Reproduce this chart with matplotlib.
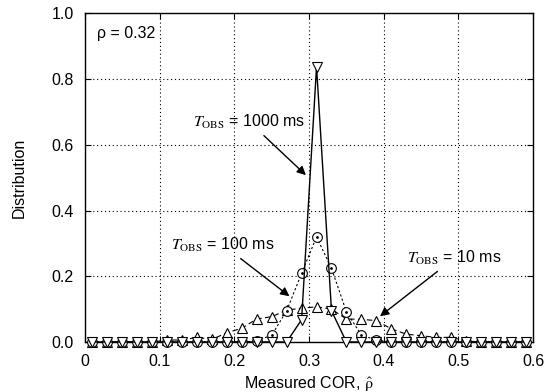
import matplotlib
matplotlib.use("Agg")
import matplotlib.pyplot as plt
import numpy as np

plt.rcParams['font.family'] = ['Liberation Sans', 'DejaVu Sans']
plt.rcParams['mathtext.fontset'] = 'stix'

# bin centres of the measured COR
cor = np.arange(0.01, 0.60, 0.02)

# T_OBS = 10 ms (triangles, dashed)
dist_10 = [0, 0, 0, 0, 0, 0.006, 0.006, 0.014, 0.008, 0.028,
           0.042, 0.07, 0.077, 0.097, 0.103, 0.107, 0.10, 0.07, 0.069, 0.065,
           0.04, 0.024, 0.019, 0.014, 0.014, 0.003, 0, 0, 0, 0]
# T_OBS = 100 ms (circles, dotted)
dist_100 = [0, 0, 0, 0, 0, 0, 0, 0, 0, 0,
            0, 0.003, 0.021, 0.095, 0.209, 0.32, 0.224, 0.092, 0.021, 0.006,
            0, 0, 0, 0, 0, 0, 0, 0, 0, 0]
# T_OBS = 1000 ms (down triangles, solid)
dist_1000 = [0, 0, 0, 0, 0, 0, 0, 0, 0, 0,
             0, 0, 0, 0, 0.068, 0.838, 0.095, 0, 0, 0,
             0, 0, 0, 0, 0, 0, 0, 0, 0, 0]

fs = 11.5

fig = plt.figure(figsize=(5.48, 3.92), dpi=100)
ax = fig.add_axes([0.155, 0.1276, 0.818, 0.838])

ax.plot(cor, dist_10, color='black', linestyle=(0, (5, 3)), linewidth=0.8,
        marker='^', markersize=6.5, markerfacecolor='white', markeredgecolor='black',
        markeredgewidth=0.8, zorder=3, clip_on=False)
ax.plot(cor, dist_100, color='black', linestyle=(0, (2, 2)), linewidth=0.8,
        marker='o', markersize=7, markerfacecolor='white', markeredgecolor='black',
        markeredgewidth=0.8, zorder=4, clip_on=False)
ax.plot(cor, dist_100, linestyle='none', marker='.', markersize=2, color='black',
        zorder=4, clip_on=False)
ax.plot(cor, dist_1000, color='black', linestyle='-', linewidth=1.0,
        marker='v', markersize=6.5, markerfacecolor='white', markeredgecolor='black',
        markeredgewidth=0.8, zorder=5, clip_on=False)

ax.set_xlim(0, 0.6)
ax.set_ylim(0, 1.0)
ax.set_xticks(np.arange(0, 0.61, 0.1))
ax.set_xticklabels(['0', '0.1', '0.2', '0.3', '0.4', '0.5', '0.6'])
ax.set_yticks(np.arange(0, 1.01, 0.2))
ax.set_yticklabels(['0.0', '0.2', '0.4', '0.6', '0.8', '1.0'])
ax.grid(True, linestyle=(0, (1, 2.5)), color='black', linewidth=0.8)
ax.tick_params(direction='in', top=True, right=True, length=4, labelsize=fs)
ax.tick_params(axis='x', pad=9)
ax.tick_params(axis='y', pad=8)
for s in ax.spines.values():
    s.set_linewidth(1.0)

ax.set_xlabel(r'Measured COR, $\hat{\mathrm{\rho}}$', fontsize=fs, labelpad=3)
ax.set_ylabel('Distribution', fontsize=fs, labelpad=18)

ax.text(0.016, 0.94, 'ρ = 0.32', fontsize=fs, ha='left', va='center')

arrow = dict(arrowstyle='-|>', color='black', lw=1.0, mutation_scale=13)
ax.annotate(r'$T_{\mathrm{OBS}}$ = 1000 ms', xy=(0.2985, 0.502), xytext=(0.22, 0.67),
            fontsize=fs, ha='center', va='center', arrowprops=arrow)
ax.annotate(r'$T_{\mathrm{OBS}}$ = 100 ms', xy=(0.2767, 0.134), xytext=(0.185, 0.295),
            fontsize=fs, ha='center', va='center', arrowprops=arrow)
ax.annotate(r'$T_{\mathrm{OBS}}$ = 10 ms', xy=(0.392, 0.073), xytext=(0.495, 0.256),
            fontsize=fs, ha='center', va='center', arrowprops=arrow)

fig.savefig('out.png', dpi=100)
